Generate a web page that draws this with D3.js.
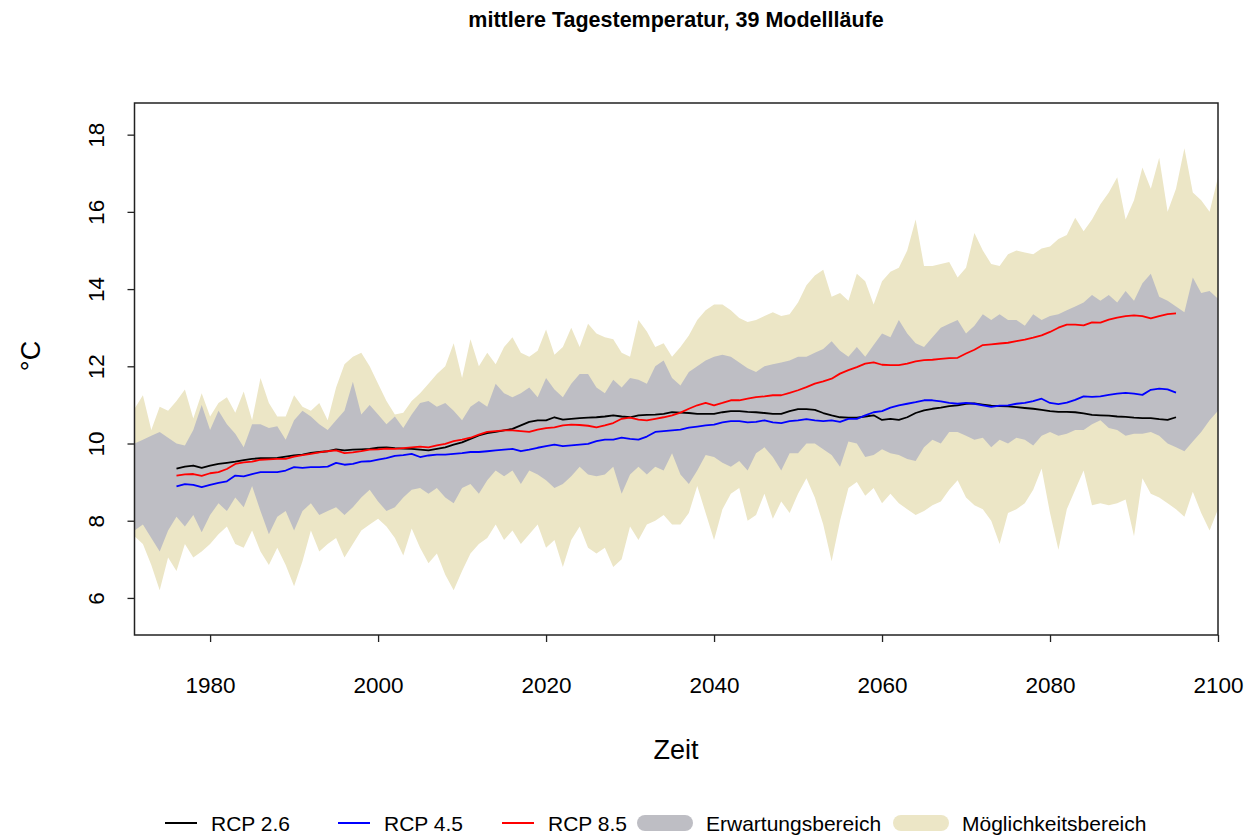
<!DOCTYPE html>
<html>
<head>
<meta charset="utf-8">
<script src="https://cdn.jsdelivr.net/npm/d3@7"></script>
<style>
  body { margin: 0; background: #fff; }
  text { font-family: "Liberation Sans", Arial, sans-serif; }
</style>
</head>
<body>
<div id="chart"></div>
<script>
// Years for the ranges (annual, full window) and for the ensemble means
const bandYears = d3.range(1971, 2101);
const lineYears = d3.range(1976, 2096);

// Möglichkeitsbereich (outer range), upper and lower edge, 1971-2100
const possUpper = [
  10.9, 11.25, 10.35, 10.95, 10.85, 11.1, 11.4, 10.65, 11.3, 10.7,
  11.05, 11.2, 10.8, 11.35, 10.6, 11.7, 11.05, 10.7, 10.7, 11.25,
  10.95, 10.85, 11.05, 10.6, 11.45, 12.05, 12.25, 12.35, 12.0, 11.55,
  11.1, 10.75, 10.8, 11.1, 11.3, 11.55, 11.8, 12.0, 12.6, 11.7,
  12.7, 12.0, 12.35, 12.05, 12.5, 12.75, 12.35, 12.25, 12.4, 12.95,
  12.3, 12.5, 13.0, 12.5, 13.1, 12.85, 12.75, 12.7, 12.35, 12.25,
  13.2, 12.9, 12.5, 12.6, 12.25, 12.5, 12.8, 13.2, 13.45, 13.6,
  13.6, 13.45, 13.25, 13.15, 13.2, 13.3, 13.4, 13.3, 13.35, 13.65,
  14.1, 14.35, 14.5, 13.8, 13.9, 13.7, 14.4, 14.2, 13.6, 14.2,
  14.45, 14.55, 15.0, 15.8, 14.6, 14.6, 14.65, 14.7, 14.3, 14.55,
  15.45, 15.0, 14.65, 14.6, 14.9, 15.0, 14.95, 14.9, 15.05, 15.1,
  15.3, 15.4, 15.85, 15.5, 15.8, 16.2, 16.5, 16.9, 15.8, 16.3,
  17.15, 16.6, 17.4, 16.0, 16.6, 17.65, 16.5, 16.3, 16.0, 16.9
];
const possLower = [
  7.6, 7.4, 6.85, 6.2, 7.05, 6.7, 7.4, 7.05, 7.2, 7.4,
  7.65, 7.85, 7.4, 7.3, 7.75, 7.2, 6.85, 7.3, 6.85, 6.3,
  6.95, 7.75, 7.2, 7.4, 7.55, 7.05, 7.4, 7.75, 7.9, 8.05,
  7.85, 7.55, 7.1, 7.8, 7.3, 6.9, 7.15, 6.6, 6.2, 6.7,
  7.15, 7.4, 7.55, 7.9, 7.5, 7.75, 7.4, 7.65, 7.9, 7.3,
  7.5, 6.8, 7.5, 7.85, 7.3, 7.15, 7.3, 6.8, 7.0, 7.85,
  7.5, 7.9, 8.0, 8.15, 7.9, 7.9, 8.2, 8.9, 8.2, 7.5,
  8.3, 8.7, 8.85, 8.0, 8.15, 8.7, 8.05, 8.5, 8.2, 8.7,
  9.1, 8.6, 7.9, 6.95, 8.0, 8.85, 9.0, 8.65, 8.85, 8.45,
  8.7, 8.45, 8.3, 8.15, 8.25, 8.4, 8.5, 8.8, 9.05, 8.6,
  8.4, 8.3, 8.0, 7.4, 8.2, 8.3, 8.45, 8.8, 9.35, 8.2,
  7.25, 8.3, 8.8, 9.3, 8.4, 8.45, 8.4, 8.45, 8.55, 7.6,
  9.1, 8.7, 8.6, 8.45, 8.3, 8.1, 8.75, 8.2, 7.75, 8.3
];

// Erwartungsbereich (inner range), upper and lower edge, 1971-2100
const expUpper = [
  10.0, 10.1, 10.2, 10.3, 10.15, 10.0, 9.95, 10.35, 11.0, 10.35,
  10.85, 10.5, 10.25, 9.9, 10.5, 10.5, 10.4, 10.45, 10.1, 10.6,
  10.85, 10.7, 10.5, 10.35, 10.6, 10.85, 11.6, 10.75, 11.0, 10.75,
  10.5, 10.7, 10.4, 10.75, 11.05, 11.1, 10.95, 11.05, 10.85, 10.6,
  10.95, 11.1, 10.95, 11.55, 11.3, 11.2, 11.3, 11.45, 11.2, 11.7,
  11.4, 11.2, 11.55, 11.8, 11.8, 11.45, 11.3, 11.65, 11.45, 11.7,
  11.65, 11.55, 12.0, 12.15, 11.7, 11.5, 11.85, 12.0, 12.15, 12.25,
  12.3, 12.25, 12.1, 11.95, 11.85, 12.0, 12.05, 12.1, 12.15, 12.25,
  12.25, 12.35, 12.45, 12.65, 12.4, 12.25, 12.5, 12.25, 12.55, 12.85,
  12.75, 13.2, 12.85, 12.6, 12.5, 12.75, 13.0, 13.1, 13.2, 12.85,
  13.05, 13.35, 13.2, 13.35, 13.2, 13.2, 13.05, 13.35, 13.2, 13.3,
  13.35, 13.45, 13.55, 13.65, 13.85, 13.7, 13.85, 13.65, 13.95, 13.7,
  14.15, 14.4, 13.8, 13.7, 13.55, 13.4, 14.3, 13.9, 13.95, 13.75
];
const expLower = [
  7.75, 7.9, 7.55, 7.2, 7.75, 8.1, 7.85, 8.15, 7.7, 8.15,
  8.45, 8.25, 8.6, 8.35, 8.9, 8.25, 7.65, 8.1, 8.25, 7.75,
  8.25, 8.45, 8.15, 8.25, 8.35, 8.15, 8.35, 8.6, 8.8, 8.5,
  8.25, 8.35, 8.6, 8.8, 8.85, 8.7, 8.85, 8.6, 8.45, 8.85,
  8.95, 8.7, 9.05, 9.3, 9.15, 9.3, 8.95, 9.3, 9.2, 9.05,
  8.85, 8.95, 9.15, 9.4, 9.2, 9.15, 9.2, 9.4, 8.7, 9.2,
  9.4, 9.2, 9.4, 9.3, 9.75, 9.2, 8.95, 9.3, 9.7, 9.65,
  9.5, 9.4, 9.55, 9.3, 9.75, 9.9, 9.65, 9.3, 9.75, 9.75,
  10.0, 10.0, 9.85, 9.7, 9.4, 10.05, 10.0, 9.65, 9.7, 9.85,
  9.75, 9.7, 9.6, 9.55, 9.9, 10.1, 10.0, 10.3, 10.3, 10.2,
  10.1, 10.15, 9.9, 10.1, 10.0, 10.15, 10.1, 9.95, 10.2, 10.3,
  10.2, 10.25, 10.35, 10.35, 10.5, 10.6, 10.4, 10.35, 10.2, 10.25,
  10.25, 10.3, 10.2, 10.0, 9.9, 9.8, 10.05, 10.3, 10.6, 10.85
];

// Ensemble means, 1976-2095
const rcp26 = [
  9.35, 9.4, 9.43, 9.37, 9.43, 9.47, 9.5, 9.53, 9.57, 9.6,
  9.62, 9.62, 9.63, 9.66, 9.69, 9.71, 9.76, 9.78, 9.8, 9.85,
  9.82, 9.84, 9.85, 9.86, 9.89, 9.9, 9.88, 9.87, 9.86, 9.84,
  9.82, 9.86, 9.9, 9.97, 10.03, 10.12, 10.21, 10.27, 10.3, 10.34,
  10.38, 10.47, 10.56, 10.6, 10.6, 10.68, 10.62, 10.64, 10.66, 10.67,
  10.68, 10.7, 10.73, 10.7, 10.68, 10.73, 10.74, 10.75, 10.77, 10.81,
  10.8, 10.79, 10.77, 10.77, 10.77, 10.81, 10.84, 10.84, 10.82, 10.81,
  10.79, 10.77, 10.77, 10.84, 10.89, 10.89, 10.87, 10.79, 10.73, 10.68,
  10.67, 10.67, 10.7, 10.73, 10.61, 10.64, 10.61, 10.68, 10.79, 10.86,
  10.9, 10.93, 10.97, 10.99, 11.03, 11.04, 11.01, 10.98, 10.97, 10.96,
  10.94, 10.92, 10.9, 10.87, 10.84, 10.82, 10.82, 10.81, 10.78, 10.74,
  10.73, 10.72, 10.7, 10.69, 10.67, 10.66, 10.66, 10.63, 10.61, 10.68
];
const rcp45 = [
  8.89, 8.95, 8.93, 8.87, 8.93, 8.98, 9.02, 9.17, 9.15, 9.21,
  9.26, 9.26, 9.26, 9.3, 9.39, 9.37, 9.39, 9.39, 9.4, 9.5,
  9.45, 9.47, 9.53, 9.54, 9.58, 9.62, 9.68, 9.7, 9.73, 9.65,
  9.69, 9.71, 9.71, 9.73, 9.75, 9.78, 9.78, 9.8, 9.82, 9.84,
  9.86, 9.8, 9.84, 9.89, 9.93, 9.97, 9.93, 9.95, 9.97, 9.99,
  10.06, 10.1, 10.1, 10.15, 10.12, 10.1, 10.18, 10.3, 10.32, 10.34,
  10.36, 10.41, 10.44, 10.47, 10.49, 10.55, 10.58, 10.58, 10.55, 10.56,
  10.6, 10.55, 10.53, 10.58, 10.6, 10.63, 10.6, 10.58, 10.6, 10.56,
  10.64, 10.64, 10.73, 10.81, 10.84, 10.93, 10.99, 11.03, 11.07, 11.12,
  11.12, 11.09, 11.05, 11.03, 11.05, 11.03, 10.99, 10.95, 10.98, 10.99,
  11.03, 11.05, 11.1, 11.16, 11.05, 11.02, 11.06, 11.13, 11.22, 11.21,
  11.22, 11.26, 11.29, 11.31, 11.29, 11.26, 11.39, 11.42, 11.4, 11.32
];
const rcp85 = [
  9.17, 9.2, 9.21, 9.16, 9.23, 9.26, 9.34, 9.47, 9.51, 9.53,
  9.58, 9.59, 9.6, 9.6, 9.66, 9.7, 9.73, 9.77, 9.8, 9.82,
  9.75, 9.77, 9.8, 9.84, 9.85, 9.87, 9.86, 9.88, 9.9, 9.92,
  9.9, 9.95, 9.99, 10.06, 10.1, 10.15, 10.23, 10.3, 10.32, 10.34,
  10.34, 10.32, 10.3, 10.36, 10.4, 10.42, 10.47, 10.49, 10.48, 10.46,
  10.42, 10.47, 10.53, 10.64, 10.67, 10.62, 10.6, 10.64, 10.68, 10.73,
  10.8, 10.9, 10.99, 11.05, 10.99, 11.05, 11.12, 11.12, 11.16, 11.2,
  11.22, 11.25, 11.25, 11.31, 11.38, 11.46, 11.55, 11.61, 11.68, 11.81,
  11.9, 11.98, 12.07, 12.1, 12.04, 12.03, 12.03, 12.07, 12.13, 12.16,
  12.17, 12.19, 12.21, 12.22, 12.33, 12.43, 12.55, 12.57, 12.59, 12.61,
  12.65, 12.69, 12.74, 12.8, 12.89, 13.0, 13.08, 13.08, 13.06, 13.14,
  13.13, 13.21, 13.26, 13.3, 13.32, 13.3, 13.24, 13.3, 13.35, 13.37
];

const xTicks = [1980, 2000, 2020, 2040, 2060, 2080, 2100];
const yTicks = [6, 8, 10, 12, 14, 16, 18];

const titleText = "mittlere Tagestemperatur, 39 Modellläufe";
const xLabel = "Zeit";
const yLabel = "°C";

const series = [
  { name: "RCP 2.6", values: rcp26, color: "#000000" },
  { name: "RCP 4.5", values: rcp45, color: "#0000ff" },
  { name: "RCP 8.5", values: rcp85, color: "#ff0000" }
];
const bands = [
  { name: "Möglichkeitsbereich", lo: possLower, hi: possUpper, color: "#ece6c6" },
  { name: "Erwartungsbereich", lo: expLower, hi: expUpper, color: "#bebec4" }
];

const width = 1258, height = 836;
const plot = { left: 134.5, right: 1218, top: 103, bottom: 635 };

const svg = d3.select("#chart").append("svg")
    .attr("width", width)
    .attr("height", height)
    .attr("viewBox", [0, 0, width, height]);

const x = d3.scaleLinear().domain([1971, 2100]).range([plot.left, plot.right]);
const y = d3.scaleLinear().domain([5.04, 18.82]).range([plot.bottom, plot.top]);

// Ranges
const area = d3.area()
    .x(d => x(d.year))
    .y0(d => y(d.lo))
    .y1(d => y(d.hi));

svg.append("g")
  .selectAll("path")
  .data(bands)
  .join("path")
    .attr("d", b => area(bandYears.map((yr, i) => ({ year: yr, lo: b.lo[i], hi: b.hi[i] }))))
    .attr("fill", b => b.color);

// Mean lines
const line = d3.line()
    .x(d => x(d.year))
    .y(d => y(d.v));

svg.append("g")
  .selectAll("path")
  .data(series)
  .join("path")
    .attr("d", s => line(lineYears.map((yr, i) => ({ year: yr, v: s.values[i] }))))
    .attr("fill", "none")
    .attr("stroke", s => s.color)
    .attr("stroke-width", 1.8)
    .attr("stroke-linejoin", "round");

// Box
svg.append("rect")
    .attr("x", plot.left)
    .attr("y", plot.top)
    .attr("width", plot.right - plot.left)
    .attr("height", plot.bottom - plot.top)
    .attr("fill", "none")
    .attr("stroke", "#222")
    .attr("stroke-width", 1.5);

// Axes
const xAxis = svg.append("g")
    .attr("transform", `translate(0,${plot.bottom})`)
    .call(d3.axisBottom(x).tickValues(xTicks).tickSize(7).tickFormat(d3.format("d")));
xAxis.select(".domain").remove();
xAxis.selectAll(".tick line").attr("stroke", "#222").attr("stroke-width", 1.3);
xAxis.selectAll(".tick text")
    .attr("y", 58)
    .attr("dy", null)
    .attr("fill", "#000")
    .style("font-size", "22.5px");

const yAxis = svg.append("g")
    .attr("transform", `translate(${plot.left},0)`)
    .call(d3.axisLeft(y).tickValues(yTicks).tickSize(7));
yAxis.select(".domain").remove();
yAxis.selectAll(".tick line").attr("stroke", "#222").attr("stroke-width", 1.3);
yAxis.selectAll(".tick text")
    .attr("x", null)
    .attr("dy", null)
    .attr("transform", "translate(-31,0) rotate(-90)")
    .attr("text-anchor", "middle")
    .attr("fill", "#000")
    .style("font-size", "22.5px");

// Titles
svg.append("text")
    .attr("x", 676)
    .attr("y", 27)
    .attr("text-anchor", "middle")
    .style("font-size", "21.5px")
    .style("font-weight", "bold")
    .text(titleText);

svg.append("text")
    .attr("x", 676)
    .attr("y", 759)
    .attr("text-anchor", "middle")
    .style("font-size", "27px")
    .text(xLabel);

svg.append("text")
    .attr("transform", `translate(40,356) rotate(-90)`)
    .attr("text-anchor", "middle")
    .style("font-size", "27px")
    .text(yLabel);

// Legend
const legendY = 823;
const legendItems = [
  { name: series[0].name, color: series[0].color, kind: "line", x: 165, tx: 46 },
  { name: series[1].name, color: series[1].color, kind: "line", x: 338, tx: 46 },
  { name: series[2].name, color: series[2].color, kind: "line", x: 502, tx: 46 },
  { name: bands[1].name, color: bands[1].color, kind: "band", x: 637, tx: 69 },
  { name: bands[0].name, color: bands[0].color, kind: "band", x: 893, tx: 69 }
];

const legend = svg.append("g")
  .selectAll("g")
  .data(legendItems)
  .join("g")
    .attr("transform", d => `translate(${d.x},${legendY})`);

legend.filter(d => d.kind === "line").append("line")
    .attr("x1", 0).attr("x2", 32)
    .attr("stroke", d => d.color)
    .attr("stroke-width", 2);

legend.filter(d => d.kind === "band").append("rect")
    .attr("x", 0).attr("y", -8)
    .attr("width", 56).attr("height", 16)
    .attr("rx", 8)
    .attr("fill", d => d.color);

legend.append("text")
    .attr("x", d => d.tx)
    .attr("y", 7.5)
    .style("font-size", "21px")
    .text(d => d.name);
</script>
</body>
</html>
